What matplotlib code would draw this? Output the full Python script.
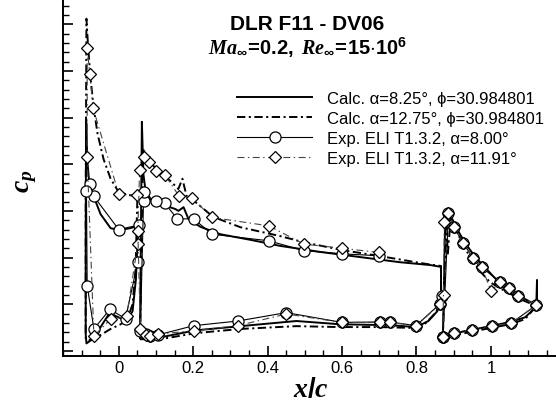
import numpy as np
import matplotlib
matplotlib.use("Agg")
import matplotlib.pyplot as plt
from matplotlib.ticker import MultipleLocator

# ---- data: x/c and cp per element (slat, main, flap) ----
# Calc. alpha=8.25
calc825_slat_x = [0.052, 0.031, 0.000, -0.022, -0.049, -0.067, -0.079, -0.085, -0.087, -0.088, -0.089,
                  -0.089, -0.087, -0.071, -0.049, -0.025, -0.001, 0.021, 0.037, 0.046, 0.052]
calc825_slat_cp = [-1.68, -1.63, -1.59, -1.63, -1.93, -2.30, -2.56, -3.11, -3.87, -3.95, -1.18,
                   0.64, 0.84, 0.75, 0.49, 0.19, 0.28, 0.36, 0.15, -0.54, -1.68]
calc825_main_x = [0.057, 0.062, 0.066, 0.072, 0.085, 0.112, 0.152, 0.160, 0.174, 0.187, 0.219, 0.273,
                  0.354, 0.434, 0.542, 0.649, 0.756, 0.837, 0.866, 0.866, 0.856, 0.832, 0.799, 0.730,
                  0.595, 0.477, 0.327, 0.206, 0.112, 0.085, 0.066, 0.057]
calc825_main_cp = [0.71, -3.91, -2.79, -2.43, -2.26, -2.15, -2.04, -2.00, -2.08, -1.83, -1.66, -1.50,
                   -1.38, -1.25, -1.12, -1.01, -0.90, -0.84, -0.80, -0.11, 0.15, 0.36, 0.49, 0.45,
                   0.43, 0.36, 0.47, 0.56, 0.71, 0.73, 0.66, 0.71]
calc825_flap_x = [0.871, 0.877, 0.896, 0.912, 0.931, 0.958, 0.985, 1.011, 1.038, 1.065, 1.092, 1.122,
                  1.124, 1.124, 1.092, 1.052, 0.998, 0.944, 0.904, 0.880, 0.871]
calc825_flap_cp = [0.71, -1.72, -1.83, -1.57, -1.31, -1.01, -0.78, -0.56, -0.39, -0.24, -0.11, 0.02,
                   -0.52, 0.04, 0.28, 0.38, 0.47, 0.56, 0.62, 0.69, 0.71]

# Calc. alpha=12.75
calc1275_slat_x = [0.050, 0.026, -0.001, -0.022, -0.041, -0.057, -0.068, -0.077, -0.083, -0.087,
                   -0.089, -0.089, -0.076, -0.049, -0.022, 0.005, 0.023, 0.037, 0.045, 0.050]
calc1275_slat_cp = [-2.32, -2.34, -2.41, -2.69, -3.11, -3.65, -4.23, -4.94, -5.58, -6.12,
                    -2.26, 0.75, 0.77, 0.66, 0.53, 0.43, 0.32, 0.00, -0.75, -2.32]
calc1275_main_x = [0.057, 0.065, 0.074, 0.090, 0.112, 0.139, 0.160, 0.171, 0.182, 0.206, 0.254, 0.327,
                   0.434, 0.496, 0.601, 0.703, 0.829, 0.866, 0.866, 0.853, 0.824, 0.799, 0.703, 0.595,
                   0.477, 0.327, 0.206, 0.112, 0.072, 0.057]
calc1275_main_cp = [0.75, -3.33, -3.16, -2.99, -2.81, -2.64, -2.47, -2.69, -2.32, -2.19, -1.87, -1.65,
                    -1.46, -1.33, -1.16, -1.03, -0.86, -0.82, -0.11, 0.17, 0.41, 0.51, 0.49, 0.49,
                    0.47, 0.53, 0.62, 0.75, 0.75, 0.75]
calc1275_flap_x = [0.871, 0.880, 0.884, 0.889, 0.896, 0.918, 0.939, 0.966, 0.998, 1.038, 1.079, 1.122,
                   1.092, 1.052, 0.998, 0.944, 0.904, 0.871]
calc1275_flap_cp = [0.75, -2.00, -1.05, -1.55, -1.74, -1.40, -1.08, -0.75, -0.47, -0.28, -0.11, 0.04,
                    0.32, 0.43, 0.51, 0.60, 0.66, 0.75]

# Exp. ELI T1.3.2, alpha=8.00
exp800_slat_x = [0.054, 0.000, -0.067, -0.078, -0.087, -0.085, -0.067, -0.024, 0.018, 0.051]
exp800_slat_cp = [-1.70, -1.60, -2.31, -2.57, -2.43, -0.40, 0.53, 0.11, 0.31, -0.91]
exp800_main_x = [0.698, 0.600, 0.497, 0.403, 0.251, 0.201, 0.157, 0.123, 0.099, 0.069, 0.067,
                 0.058, 0.072, 0.085, 0.104, 0.201, 0.320, 0.450, 0.600, 0.701, 0.728, 0.799, 0.862, 0.868]
exp800_main_cp = [-1.04, -1.08, -1.15, -1.36, -1.50, -1.83, -1.83, -2.17, -2.21, -2.21, -2.40,
                  0.57, 0.64, 0.68, 0.66, 0.46, 0.36, 0.18, 0.39, 0.38, 0.38, 0.46, 0.00, -0.17]
exp800_flap_x = [0.871, 0.886, 0.902, 0.925, 0.952, 0.976, 1.025, 1.050, 1.074, 1.122,
                 1.054, 1.003, 0.949, 0.900, 0.871]
exp800_flap_cp = [0.71, -1.95, -1.65, -1.31, -1.00, -0.79, -0.47, -0.34, -0.18, 0.02,
                  0.41, 0.46, 0.55, 0.61, 0.71]

# Exp. ELI T1.3.2, alpha=11.91
exp1191_slat_x = [0.049, 0.000, -0.069, -0.078, -0.085, -0.085, -0.067, -0.022, 0.021, 0.051]
exp1191_slat_cp = [-2.34, -2.36, -4.20, -4.94, -5.49, -3.15, 0.68, 0.32, 0.26, -1.29]
exp1191_main_x = [0.698, 0.600, 0.497, 0.403, 0.251, 0.197, 0.161, 0.123, 0.099, 0.081, 0.067, 0.056,
                  0.051, 0.058, 0.072, 0.085, 0.104, 0.201, 0.320, 0.450, 0.600, 0.701, 0.728, 0.799,
                  0.864, 0.873]
exp1191_main_cp = [-1.11, -1.20, -1.29, -1.68, -1.86, -2.27, -2.33, -2.78, -2.86, -3.04, -3.15, -2.88,
                   -1.58, 0.53, 0.66, 0.69, 0.64, 0.57, 0.46, 0.21, 0.39, 0.39, 0.39, 0.46,
                   0.00, -0.20]
exp1191_flap_x = [0.871, 0.875, 0.886, 0.902, 0.925, 0.952, 0.976, 1.000, 1.025, 1.050, 1.074, 1.122,
                  1.054, 1.003, 0.949, 0.900, 0.871]
exp1191_flap_cp = [0.71, -1.77, -1.95, -1.65, -1.31, -1.00, -0.79, -0.29, -0.47, -0.34, -0.18, 0.02,
                   0.41, 0.46, 0.55, 0.61, 0.71]

labels = ["Calc. \u03b1=8.25\u00b0, \u03d5=30.984801",
          "Calc. \u03b1=12.75\u00b0, \u03d5=30.984801",
          "Exp. ELI T1.3.2, \u03b1=8.00\u00b0",
          "Exp. ELI T1.3.2, \u03b1=11.91\u00b0"]

plt.rcParams.update({
    "font.family": ["Liberation Sans", "DejaVu Sans"],
    "font.size": 12,
    "lines.scale_dashes": False,
    "mathtext.fontset": "custom",
    "mathtext.it": "Liberation Serif:italic:bold",
    "mathtext.rm": "Liberation Sans:bold",
    "mathtext.bf": "Liberation Sans:bold",
})

fig = plt.figure(figsize=(5.56, 4.02), dpi=100)
ax = fig.add_axes([63 / 556, 45 / 402, 493 / 556, 355 / 402])

dashdot = (0, (6, 2.5, 1.5, 2.5))
dashdot_exp = (0, (5, 2.5, 1, 2.5))

for i, (xs, cps) in enumerate([(calc825_slat_x, calc825_slat_cp),
                               (calc825_main_x, calc825_main_cp),
                               (calc825_flap_x, calc825_flap_cp)]):
    ax.plot(xs, cps, color="black", lw=1.4, label=labels[0] if i == 0 else None, zorder=3)

for i, (xs, cps) in enumerate([(calc1275_slat_x, calc1275_slat_cp),
                               (calc1275_main_x, calc1275_main_cp),
                               (calc1275_flap_x, calc1275_flap_cp)]):
    ax.plot(xs, cps, color="black", lw=1.4, linestyle=dashdot,
            label=labels[1] if i == 0 else None, zorder=3)

for i, (xs, cps) in enumerate([(exp800_slat_x, exp800_slat_cp),
                               (exp800_main_x, exp800_main_cp),
                               (exp800_flap_x, exp800_flap_cp)]):
    ax.plot(xs, cps, color="black", lw=0.8, marker="o", ms=8, mfc="white", mec="black", mew=0.9,
            label=labels[2] if i == 0 else None, zorder=4)

for i, (xs, cps) in enumerate([(exp1191_slat_x, exp1191_slat_cp),
                               (exp1191_main_x, exp1191_main_cp),
                               (exp1191_flap_x, exp1191_flap_cp)]):
    ax.plot(xs, cps, color="#444444", lw=0.8, linestyle=dashdot_exp, marker="D", ms=6.5,
            mfc="white", mec="black", mew=0.9,
            label=labels[3] if i == 0 else None, zorder=5)

ax.set_xlim(-0.15, 1.175)
ax.set_ylim(1.11, -6.5)

ax.spines["top"].set_visible(False)
ax.spines["right"].set_visible(False)
ax.spines["left"].set_linewidth(1.4)
ax.spines["bottom"].set_linewidth(1.4)

ax.xaxis.set_major_locator(MultipleLocator(0.2))
ax.xaxis.set_minor_locator(MultipleLocator(0.05))
ax.yaxis.set_major_locator(MultipleLocator(1))
ax.yaxis.set_minor_locator(MultipleLocator(0.2))
ax.tick_params(which="major", direction="in", length=7, width=1.2, labelsize=12, pad=3)
ax.tick_params(which="minor", direction="in", length=4, width=1.0)
ax.tick_params(axis="y", labelleft=False)
ax.set_xticks([0, 0.2, 0.4, 0.6, 0.8, 1.0])
ax.set_xticklabels(["0", "0.2", "0.4", "0.6", "0.8", "1"])

fig.text(307.5 / 556, 1 - 30.5 / 402, "DLR F11 - DV06", ha="center", va="baseline",
         fontsize=15, fontweight="bold")
fig.text(308 / 556, 1 - 55 / 402,
         r"$\mathit{Ma}_{\infty}\!=\!\mathrm{0.2,\ }\mathit{Re}_{\infty}\!=\!\mathrm{15{\cdot}10^{6}}$",
         ha="center", va="baseline", fontsize=14.5)

fig.text(26 / 556, 1 - 181 / 402, r"$c_p$", rotation=90, ha="center", va="center", fontsize=20)
fig.text(311 / 556, 1 - 397 / 402, r"$x/c$", ha="center", va="baseline", fontsize=20)

leg = ax.legend(loc="upper left", bbox_to_anchor=(237 / 556, 1 - 92 / 402),
                bbox_transform=fig.transFigure, frameon=False, fontsize=12,
                handlelength=4.5, handletextpad=0.9, labelspacing=0.3, borderpad=0,
                borderaxespad=0, numpoints=1)

fig.savefig("out.png", dpi=100)
